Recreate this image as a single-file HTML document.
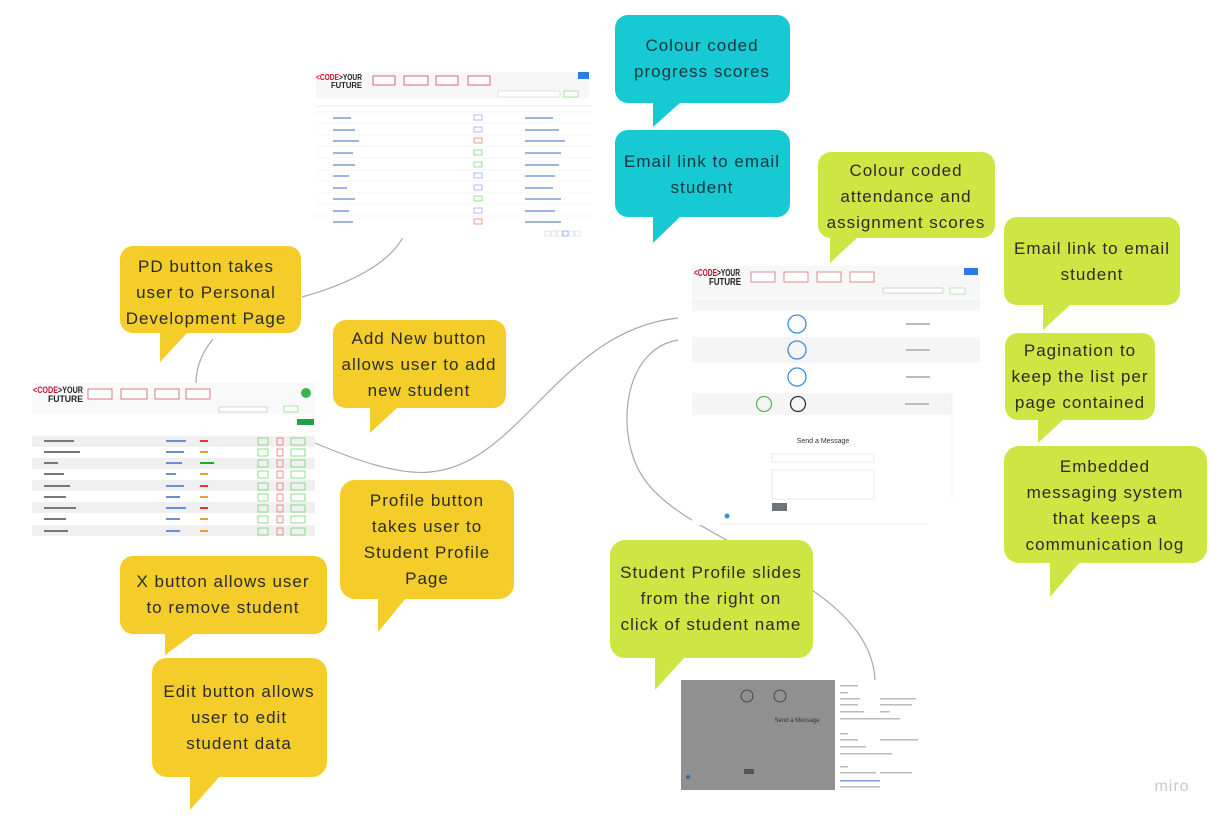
<!DOCTYPE html>
<html><head><meta charset="utf-8"><style>
html,body{margin:0;padding:0;background:#fff;width:1220px;height:819px;overflow:hidden}
svg{display:block}
.t{font-family:"Liberation Sans",sans-serif;font-size:17px;letter-spacing:1px;fill:#2b2b2b;text-anchor:middle}
.tc{fill:#16383d}
.logo{font-family:"Liberation Sans",sans-serif;font-weight:bold;fill:#222}
</style></head><body>
<svg width="1220" height="819" viewBox="0 0 1220 819" xmlns="http://www.w3.org/2000/svg">
<g fill="none" stroke="#a8a8a8" stroke-width="1.2">
<path d="M404,235 C390,265 345,285 302,297"/>
<path d="M213,339 C200,355 196,370 196,383"/>
<path d="M315,443 C360,462 400,475 430,472 C520,465 560,330 678,318"/>
<path d="M678,340 C620,350 615,440 645,480 C690,545 870,580 875,680"/>
</g>

<!-- top screenshot -->
<g>
<rect x="313" y="70" width="279" height="168" fill="#fff"/>
<rect x="316" y="72" width="273" height="26" fill="#f7f7f7"/>
<text x="316" y="80" class="logo" font-size="8" textLength="46" lengthAdjust="spacingAndGlyphs"><tspan fill="#c8102e">&lt;CODE</tspan><tspan>&gt;YOUR</tspan></text>
<text x="331" y="88" class="logo" font-size="8" textLength="31" lengthAdjust="spacingAndGlyphs">FUTURE</text>
<g fill="#fff" stroke="#d04050" stroke-width="0.8">
<rect x="373" y="76" width="22" height="9"/><rect x="404" y="76" width="24" height="9"/><rect x="436" y="76" width="22" height="9"/><rect x="468" y="76" width="22" height="9"/></g>
<rect x="578" y="72" width="11" height="7" fill="#2c7be5"/>
<rect x="498" y="91" width="62" height="6" fill="#fff" stroke="#ccc" stroke-width="0.5"/>
<rect x="564" y="91" width="14" height="6" fill="#fff" stroke="#5c5" stroke-width="0.5"/>
<line x1="316" y1="106" x2="592" y2="106" stroke="#ddd" stroke-width="0.6"/>
<g stroke="#ececec" stroke-width="0.6">
<line x1="316" y1="112" x2="592" y2="112"/><line x1="316" y1="123" x2="592" y2="123"/><line x1="316" y1="135" x2="592" y2="135"/><line x1="316" y1="146" x2="592" y2="146"/><line x1="316" y1="158" x2="592" y2="158"/><line x1="316" y1="170" x2="592" y2="170"/><line x1="316" y1="181" x2="592" y2="181"/><line x1="316" y1="193" x2="592" y2="193"/><line x1="316" y1="204" x2="592" y2="204"/><line x1="316" y1="216" x2="592" y2="216"/></g>
<g fill="#9db4e0"><rect x="333" y="117" width="18" height="2"/><rect x="333" y="129" width="22" height="2"/><rect x="333" y="140" width="26" height="2"/><rect x="333" y="152" width="20" height="2"/><rect x="333" y="164" width="22" height="2"/><rect x="333" y="175" width="16" height="2"/><rect x="333" y="187" width="14" height="2"/><rect x="333" y="198" width="22" height="2"/><rect x="333" y="210" width="16" height="2"/><rect x="333" y="221" width="20" height="2"/>
<rect x="525" y="117" width="28" height="2"/><rect x="525" y="129" width="34" height="2"/><rect x="525" y="140" width="40" height="2"/><rect x="525" y="152" width="36" height="2"/><rect x="525" y="164" width="34" height="2"/><rect x="525" y="175" width="30" height="2"/><rect x="525" y="187" width="28" height="2"/><rect x="525" y="198" width="36" height="2"/><rect x="525" y="210" width="30" height="2"/><rect x="525" y="221" width="36" height="2"/></g>
<g fill="none" stroke-width="0.6"><rect x="474" y="115" width="8" height="5" stroke="#88f"/><rect x="474" y="127" width="8" height="5" stroke="#88f"/><rect x="474" y="138" width="8" height="5" stroke="#e55"/><rect x="474" y="150" width="8" height="5" stroke="#5c5"/><rect x="474" y="162" width="8" height="5" stroke="#5c5"/><rect x="474" y="173" width="8" height="5" stroke="#88f"/><rect x="474" y="185" width="8" height="5" stroke="#88f"/><rect x="474" y="196" width="8" height="5" stroke="#5c5"/><rect x="474" y="208" width="8" height="5" stroke="#88f"/><rect x="474" y="219" width="8" height="5" stroke="#e55"/></g>
<g fill="#fff" stroke="#ccc" stroke-width="0.5"><rect x="545" y="231" width="5" height="5"/><rect x="551" y="231" width="5" height="5"/><rect x="557" y="231" width="5" height="5"/><rect x="563" y="231" width="5" height="5" stroke="#2c7be5"/><rect x="569" y="231" width="5" height="5"/><rect x="575" y="231" width="5" height="5"/></g>
</g>

<!-- left screenshot -->
<g>
<rect x="32" y="383" width="283" height="155" fill="#fff"/>
<rect x="32" y="383" width="283" height="32" fill="#f9f9f9"/>
<text x="33" y="393" class="logo" font-size="9" textLength="50" lengthAdjust="spacingAndGlyphs"><tspan fill="#c8102e">&lt;CODE</tspan><tspan>&gt;YOUR</tspan></text>
<text x="48" y="402" class="logo" font-size="9" textLength="35" lengthAdjust="spacingAndGlyphs">FUTURE</text>
<g fill="#fff" stroke="#d04050" stroke-width="0.7"><rect x="88" y="389" width="24" height="10"/><rect x="121" y="389" width="26" height="10"/><rect x="155" y="389" width="24" height="10"/><rect x="186" y="389" width="24" height="10"/></g>
<circle cx="306" cy="393" r="5" fill="#3bb54a"/>
<rect x="219" y="407" width="48" height="5" fill="#fff" stroke="#aaa" stroke-width="0.5"/>
<rect x="284" y="406" width="14" height="6" fill="#fff" stroke="#5c5" stroke-width="0.5"/>
<rect x="297" y="419" width="17" height="6" fill="#1fa24a"/>
<g fill="#f0f0f0"><rect x="32" y="436" width="283" height="11"/><rect x="32" y="458" width="283" height="11"/><rect x="32" y="480" width="283" height="11"/><rect x="32" y="502" width="283" height="11"/><rect x="32" y="525" width="283" height="11"/></g>
<g fill="#777"><rect x="44" y="440" width="30" height="2"/><rect x="44" y="451" width="36" height="2"/><rect x="44" y="462" width="14" height="2"/><rect x="44" y="473" width="20" height="2"/><rect x="44" y="485" width="26" height="2"/><rect x="44" y="496" width="22" height="2"/><rect x="44" y="507" width="32" height="2"/><rect x="44" y="518" width="22" height="2"/><rect x="44" y="530" width="24" height="2"/></g>
<g fill="#6c8fd6"><rect x="166" y="440" width="20" height="2"/><rect x="166" y="451" width="18" height="2"/><rect x="166" y="462" width="16" height="2"/><rect x="166" y="473" width="10" height="2"/><rect x="166" y="485" width="18" height="2"/><rect x="166" y="496" width="14" height="2"/><rect x="166" y="507" width="20" height="2"/><rect x="166" y="518" width="14" height="2"/><rect x="166" y="530" width="14" height="2"/></g>
<g fill="#e8a030"><rect x="200" y="440" width="8" height="2" fill="#e33"/><rect x="200" y="451" width="8" height="2"/><rect x="200" y="462" width="14" height="2" fill="#2a2"/><rect x="200" y="473" width="8" height="2"/><rect x="200" y="485" width="8" height="2" fill="#e33"/><rect x="200" y="496" width="8" height="2"/><rect x="200" y="507" width="8" height="2" fill="#e33"/><rect x="200" y="518" width="8" height="2"/><rect x="200" y="530" width="8" height="2"/></g>
<g fill="none" stroke-width="0.6"><g stroke="#4c4"><rect x="258" y="438" width="10" height="7"/><rect x="258" y="449" width="10" height="7"/><rect x="258" y="460" width="10" height="7"/><rect x="258" y="471" width="10" height="7"/><rect x="258" y="483" width="10" height="7"/><rect x="258" y="494" width="10" height="7"/><rect x="258" y="505" width="10" height="7"/><rect x="258" y="516" width="10" height="7"/><rect x="258" y="528" width="10" height="7"/>
<rect x="291" y="438" width="14" height="7"/><rect x="291" y="449" width="14" height="7"/><rect x="291" y="460" width="14" height="7"/><rect x="291" y="471" width="14" height="7"/><rect x="291" y="483" width="14" height="7"/><rect x="291" y="494" width="14" height="7"/><rect x="291" y="505" width="14" height="7"/><rect x="291" y="516" width="14" height="7"/><rect x="291" y="528" width="14" height="7"/></g>
<g stroke="#e44"><rect x="277" y="438" width="6" height="7"/><rect x="277" y="449" width="6" height="7"/><rect x="277" y="460" width="6" height="7"/><rect x="277" y="471" width="6" height="7"/><rect x="277" y="483" width="6" height="7"/><rect x="277" y="494" width="6" height="7"/><rect x="277" y="505" width="6" height="7"/><rect x="277" y="516" width="6" height="7"/><rect x="277" y="528" width="6" height="7"/></g></g>
</g>

<!-- right screenshot -->
<g>
<rect x="692" y="266" width="288" height="128" fill="#fff"/>
<rect x="692" y="266" width="288" height="32" fill="#f7f7f7"/>
<text x="694" y="276" class="logo" font-size="10" textLength="46" lengthAdjust="spacingAndGlyphs"><tspan fill="#c8102e">&lt;CODE</tspan><tspan>&gt;YOUR</tspan></text>
<text x="709" y="285" class="logo" font-size="10" textLength="32" lengthAdjust="spacingAndGlyphs">FUTURE</text>
<g fill="#fff" stroke="#d04050" stroke-width="0.6"><rect x="751" y="272" width="24" height="10"/><rect x="784" y="272" width="24" height="10"/><rect x="817" y="272" width="24" height="10"/><rect x="850" y="272" width="24" height="10"/></g>
<rect x="964" y="268" width="14" height="7" fill="#2c7be5"/>
<rect x="883" y="288" width="60" height="5" fill="#fff" stroke="#aaa" stroke-width="0.5"/>
<rect x="950" y="288" width="15" height="6" fill="#fff" stroke="#8c8" stroke-width="0.5"/>
<rect x="692" y="299" width="288" height="12" fill="#f5f5f5"/>
<rect x="692" y="337" width="288" height="26" fill="#f5f5f5"/>
<rect x="692" y="393" width="260" height="22" fill="#f5f5f5"/>
<rect x="692" y="415" width="260" height="110" fill="#fff"/>
<line x1="952" y1="393" x2="952" y2="500" stroke="#eee" stroke-width="0.6"/>
<g fill="none" stroke-width="1.3"><circle cx="797" cy="324" r="9" stroke="#3b8ee0"/><circle cx="797" cy="350" r="9" stroke="#3b8ee0"/><circle cx="797" cy="377" r="9" stroke="#3b8ee0"/><circle cx="764" cy="404" r="7.5" stroke="#5cb85c"/><circle cx="798" cy="404" r="7.5" stroke="#333"/></g>
<g fill="#bbb"><rect x="906" y="323" width="24" height="2"/><rect x="906" y="349" width="24" height="2"/><rect x="906" y="376" width="24" height="2"/><rect x="905" y="403" width="24" height="2"/></g>
<text x="823" y="443" font-family="Liberation Sans,sans-serif" font-size="7" fill="#333" text-anchor="middle">Send a Message</text>
<rect x="772" y="454" width="102" height="8" fill="#fff" stroke="#ddd" stroke-width="0.6"/>
<rect x="772" y="470" width="102" height="29" fill="#fff" stroke="#ddd" stroke-width="0.6"/>
<rect x="772" y="503" width="15" height="8" fill="#6c757d"/>
<circle cx="727" cy="516" r="2.5" fill="#3b8ee0"/>
<line x1="720" y1="524" x2="928" y2="524" stroke="#ddd" stroke-width="0.6"/>
</g>

<!-- bottom screenshot -->
<g>
<rect x="681" y="680" width="254" height="110" fill="#fff"/>
<rect x="681" y="680" width="154" height="110" fill="#909090"/>
<g fill="none" stroke="#333" stroke-width="0.8"><circle cx="747" cy="696" r="6"/><circle cx="780" cy="696" r="6"/></g>
<text x="797" y="722" font-family="Liberation Sans,sans-serif" font-size="6" fill="#333" text-anchor="middle">Send a Message</text>
<rect x="744" y="769" width="10" height="5" fill="#555"/>
<circle cx="688" cy="777" r="2" fill="#3b6ea0"/>
<g fill="#bbb"><rect x="840" y="685" width="18" height="1.5"/><rect x="840" y="692" width="8" height="1.5"/><rect x="840" y="698" width="20" height="1.5"/><rect x="880" y="698" width="36" height="1.5"/><rect x="840" y="704" width="18" height="1.5"/><rect x="880" y="704" width="32" height="1.5"/><rect x="840" y="711" width="24" height="1.5"/><rect x="880" y="711" width="10" height="1.5"/><rect x="840" y="718" width="60" height="1.5"/><rect x="840" y="733" width="8" height="1.5"/><rect x="840" y="739" width="18" height="1.5"/><rect x="880" y="739" width="38" height="1.5"/><rect x="840" y="746" width="26" height="1.5"/><rect x="840" y="753" width="52" height="1.5"/><rect x="840" y="766" width="8" height="1.5"/><rect x="840" y="772" width="36" height="1.5"/><rect x="880" y="772" width="32" height="1.5"/><rect x="840" y="780" width="40" height="1.5" fill="#7aa0e0"/><rect x="840" y="786" width="40" height="1.5"/></g>
</g>

<g fill="#17c9d3">
<rect x="615" y="15" width="175" height="88" rx="13"/><polygon points="653,102 681,102 653,127"/>
<rect x="615" y="130" width="175" height="87" rx="13"/><polygon points="653,216 681,216 653,243"/>
</g>
<g fill="#cde643">
<rect x="818" y="152" width="177" height="86" rx="13"/><polygon points="830,237 858,237 830,263"/>
<rect x="1004" y="217" width="176" height="88" rx="13"/><polygon points="1043,304 1071,304 1043,330"/>
<rect x="1005" y="333" width="150" height="87" rx="13"/><polygon points="1038,419 1064,419 1038,443"/>
<rect x="1004" y="446" width="203" height="117" rx="15"/><polygon points="1050,562 1080,562 1050,597"/>
<rect x="610" y="540" width="203" height="118" rx="15"/><polygon points="655,657 685,657 655,690"/>
</g>
<g fill="#f5cd2a">
<rect x="120" y="246" width="181" height="87" rx="13"/><polygon points="160,332 188,332 160,362"/>
<rect x="333" y="320" width="173" height="88" rx="13"/><polygon points="370,407 398,407 370,433"/>
<rect x="340" y="480" width="174" height="119" rx="15"/><polygon points="378,598 406,598 378,632"/>
<rect x="120" y="556" width="207" height="78" rx="13"/><polygon points="165,633 195,633 165,655"/>
<rect x="152" y="658" width="175" height="119" rx="15"/><polygon points="190,776 220,776 190,810"/>
</g>

<text class="t tc" x="702" y="51">Colour coded</text>
<text class="t tc" x="702" y="77">progress scores</text>
<text class="t tc" x="702" y="167">Email link to email</text>
<text class="t tc" x="702" y="193">student</text>

<text class="t" x="906" y="176">Colour coded</text>
<text class="t" x="906" y="202">attendance and</text>
<text class="t" x="906" y="228">assignment scores</text>
<text class="t" x="1092" y="254">Email link to email</text>
<text class="t" x="1092" y="280">student</text>
<text class="t" x="1080" y="356">Pagination to</text>
<text class="t" x="1080" y="382">keep the list per</text>
<text class="t" x="1080" y="408">page contained</text>
<text class="t" x="1105" y="472">Embedded</text>
<text class="t" x="1105" y="498">messaging system</text>
<text class="t" x="1105" y="524">that keeps a</text>
<text class="t" x="1105" y="550">communication log</text>
<text class="t" x="711" y="578">Student Profile slides</text>
<text class="t" x="711" y="604">from the right on</text>
<text class="t" x="711" y="630">click of student name</text>

<text class="t" x="206" y="272">PD button takes</text>
<text class="t" x="206" y="298">user to Personal</text>
<text class="t" x="206" y="324">Development Page</text>
<text class="t" x="419" y="344">Add New button</text>
<text class="t" x="419" y="370">allows user to add</text>
<text class="t" x="419" y="396">new student</text>
<text class="t" x="427" y="506">Profile button</text>
<text class="t" x="427" y="532">takes user to</text>
<text class="t" x="427" y="558">Student Profile</text>
<text class="t" x="427" y="584">Page</text>
<text class="t" x="223" y="587">X button allows user</text>
<text class="t" x="223" y="613">to remove student</text>
<text class="t" x="239" y="697">Edit button allows</text>
<text class="t" x="239" y="723">user to edit</text>
<text class="t" x="239" y="749">student data</text>

<text x="1172" y="791" font-family="Liberation Sans,sans-serif" font-size="16" fill="#c8c8c8" text-anchor="middle" letter-spacing="1">miro</text>
</svg>
</body></html>
